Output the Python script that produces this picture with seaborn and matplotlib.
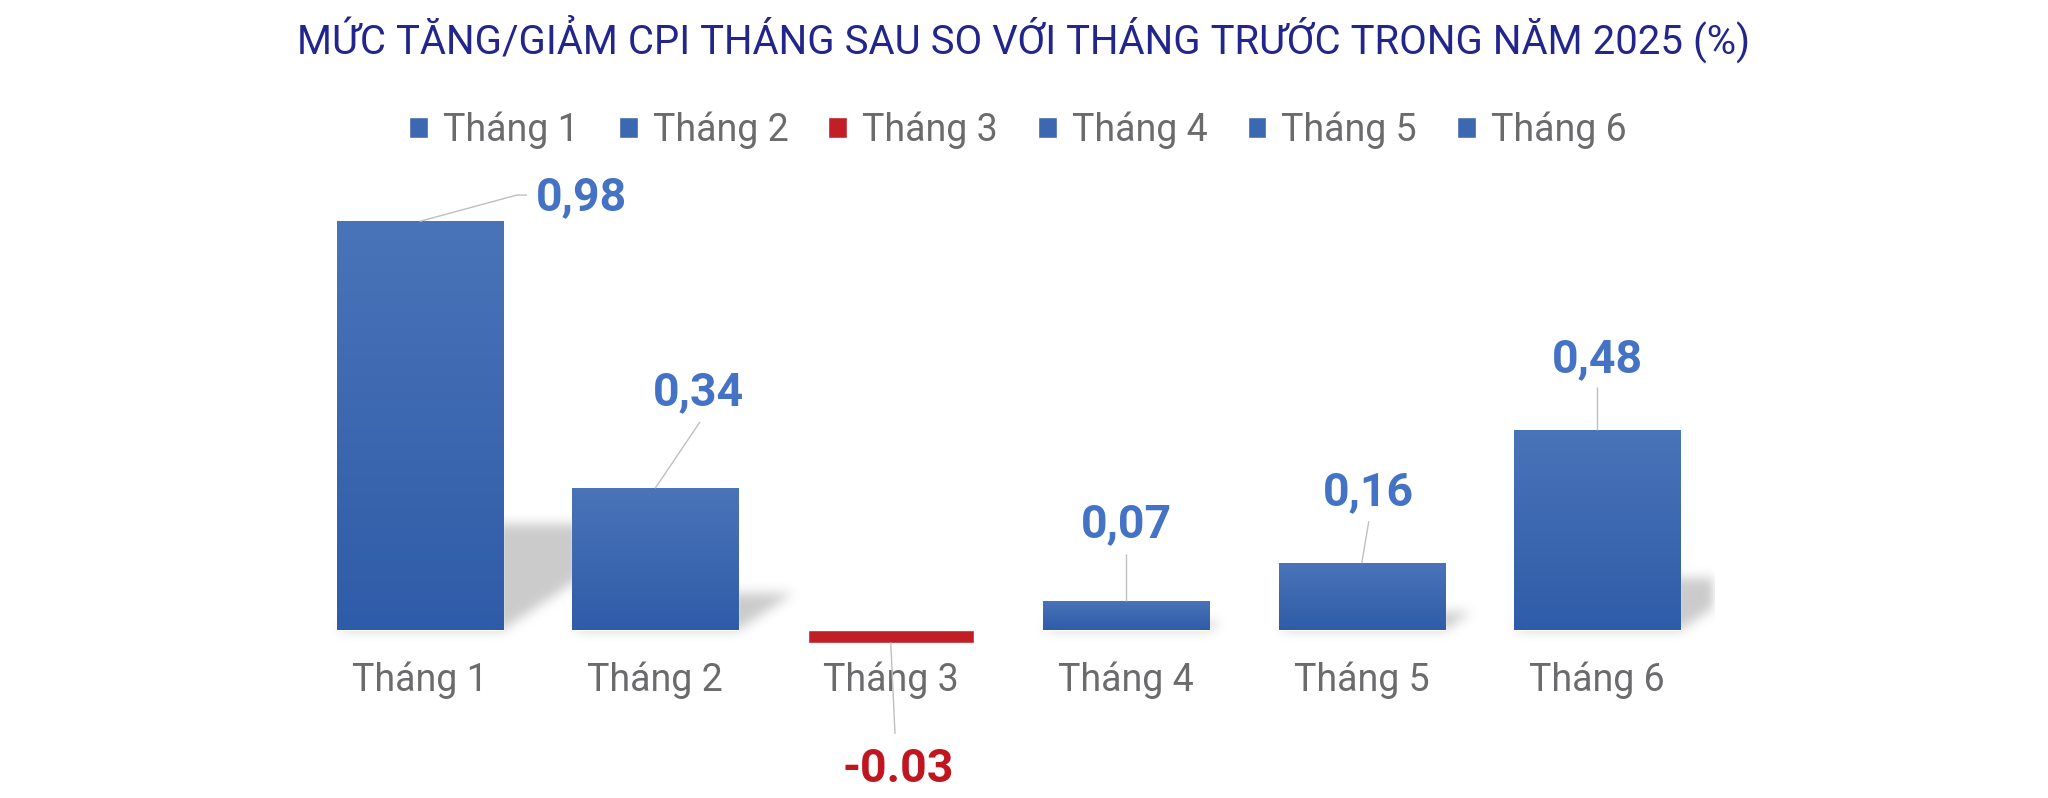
import numpy as np
import pandas as pd
import matplotlib
matplotlib.use("Agg")
import matplotlib.pyplot as plt
import seaborn as sns
from matplotlib.path import Path
from matplotlib.colors import LinearSegmentedColormap

# ---------------- data ----------------
months = ["Tháng 1", "Tháng 2", "Tháng 3", "Tháng 4", "Tháng 5", "Tháng 6"]
cpi_change = [0.98, 0.34, -0.03, 0.07, 0.16, 0.48]
value_text = ["0,98", "0,34", "-0.03", "0,07", "0,16", "0,48"]
title_text = "MỨC TĂNG/GIẢM CPI THÁNG SAU SO VỚI THÁNG TRƯỚC TRONG NĂM 2025 (%)"

# ---------------- styles / layout ----------------
BLUE = "#3C67B1"
BLUE_TOP = "#4A74B9"
BLUE_BOT = "#2F5CA8"
RED = "#C21E26"
LABEL_BLUE = "#4472C4"
LABEL_RED = "#C0161F"
TITLE_COLOR = "#22268C"
TEXT_GRAY = "#6B6B6D"
LEADER = "#BFBFBF"

# label anchor offsets relative to each bar end (dx, dy, ha)
label_offsets = [(0.493, 0.027, "left"), (0.185, 0.200, "center"),
                 (0.03, -0.335, "center"), (0.0, 0.153, "center"),
                 (0.03, 0.14, "center"), (0.0, 0.139, "center")]
# leader line path offsets relative to each bar end
leader_offsets = [[(0, 0), (0.412, 0.063), (0.455, 0.063)],
                  [(0, 0), (0.19, 0.159)],
                  [(0, 0), (0.018, -0.219)],
                  [(0, 0), (0.0, 0.112)],
                  [(0, 0), (0.03, 0.101)],
                  [(0, 0), (0.0, 0.103)]]

W, H, DPI = 2048, 798, 100

sns.set_theme(style="white")
plt.rcParams["font.family"] = ["Roboto", "DejaVu Sans"]

df = pd.DataFrame({"month": months, "value": cpi_change})
palette = {m: (RED if v < 0 else BLUE) for m, v in zip(months, cpi_change)}

fig = plt.figure(figsize=(W / DPI, H / DPI), dpi=DPI)
fig.patch.set_facecolor("white")
ax_left, ax_right = 302 / W, 1715 / W
ax = fig.add_axes([ax_left, 0.0799, ax_right - ax_left, 0.6793])

sns.barplot(data=df, x="month", y="value", hue="month", palette=palette,
            width=0.706, saturation=1, legend=True, ax=ax, zorder=3)

XLIM, YLIM = (-0.5, 5.5), (-0.25, 1.05)
ax.set_xlim(*XLIM)
ax.set_ylim(*YLIM)

bars = [b for c in ax.containers for b in c]

# ---------------- gradient fill on bars ----------------
grad_cmap = LinearSegmentedColormap.from_list("g", [BLUE_BOT, BLUE_TOP])
grad = np.linspace(0, 1, 256).reshape(-1, 1)
for b in bars:
    h = b.get_height()
    if h > 0:
        x0, y0, w = b.get_x(), b.get_y(), b.get_width()
        im = ax.imshow(grad, extent=[x0, x0 + w, y0, y0 + h], origin="lower",
                       aspect="auto", cmap=grad_cmap, zorder=3.5,
                       interpolation="bilinear")
        im.set_clip_path(b)

# ---------------- soft perspective shadows ----------------
bb = ax.bbox
gw, gh = int(round(bb.width)), int(round(bb.height))
xs = bb.x0 + np.arange(gw) + 0.5
ys = bb.y0 + np.arange(gh) + 0.5
GX, GY = np.meshgrid(xs, ys)
pts = np.column_stack([GX.ravel(), GY.ravel()])
mask = np.zeros(gw * gh)
K, S = 0.26, 0.39
for b in bars:
    h = b.get_height()
    if h <= 0:
        continue
    (xl, yb), (xr, yt) = ax.transData.transform([(b.get_x(), 0), (b.get_x() + b.get_width(), h)])
    hp = yt - yb
    poly = [(xl, yb), (xr, yb), (xr + S * hp, yb + K * hp), (xl + S * hp, yb + K * hp)]
    mask = np.maximum(mask, Path(poly).contains_points(pts).astype(float))
mask = mask.reshape(gh, gw)


def blur1d(a, r, axis):
    a = np.moveaxis(a, axis, -1)
    p = np.pad(a, [(0, 0), (r + 1, r)], mode="constant")
    c = np.cumsum(p, axis=-1)
    out = (c[:, 2 * r + 1:] - c[:, :-2 * r - 1]) / (2 * r + 1)
    return np.moveaxis(out, -1, axis)


for _ in range(3):
    mask = blur1d(mask, 5, 0)
    mask = blur1d(mask, 5, 1)
rgba = np.zeros((gh, gw, 4))
rgba[..., :3] = 0.55
rgba[..., 3] = mask * 0.45
ax.imshow(rgba, extent=[*XLIM, *YLIM], origin="lower", aspect="auto",
          zorder=2, interpolation="nearest")
ax.set_xlim(*XLIM)
ax.set_ylim(*YLIM)

# ---------------- value labels & leader lines ----------------
for i, (v, t) in enumerate(zip(cpi_change, value_text)):
    dx, dy, ha = label_offsets[i]
    col = LABEL_RED if v < 0 else LABEL_BLUE
    ax.text(i + dx, v + dy, t, ha=ha, va="baseline", fontsize=33.5,
            fontweight="bold", color=col, clip_on=False, zorder=6)
    path = leader_offsets[i]
    ax.plot([i + p[0] for p in path], [v + p[1] for p in path], color=LEADER,
            lw=1.0, clip_on=False, zorder=5, solid_capstyle="butt")

# ---------------- axes styling ----------------
for s in ax.spines.values():
    s.set_visible(False)
ax.spines["bottom"].set_position(("data", 0))
ax.set_yticks([])
ax.set_xlabel("")
ax.set_ylabel("")
ax.tick_params(axis="x", length=0, pad=23, labelsize=27, labelcolor=TEXT_GRAY)
ax.set_facecolor("none")

# ---------------- legend ----------------
handles, labels = ax.get_legend_handles_labels()
if ax.get_legend() is not None:
    ax.get_legend().remove()
fig.legend(handles, labels, loc="center", bbox_to_anchor=(0.497, 0.837),
           ncol=6, frameon=False, fontsize=27, handlelength=0.5,
           handleheight=0.5, handletextpad=0.40, columnspacing=1.07,
           labelcolor=TEXT_GRAY)

# ---------------- title ----------------
fig.text(0.5, (H - 54) / H, title_text, ha="center", va="baseline",
         fontsize=28.9, color=TITLE_COLOR)

fig.savefig("out.png", dpi=DPI, facecolor="white")
